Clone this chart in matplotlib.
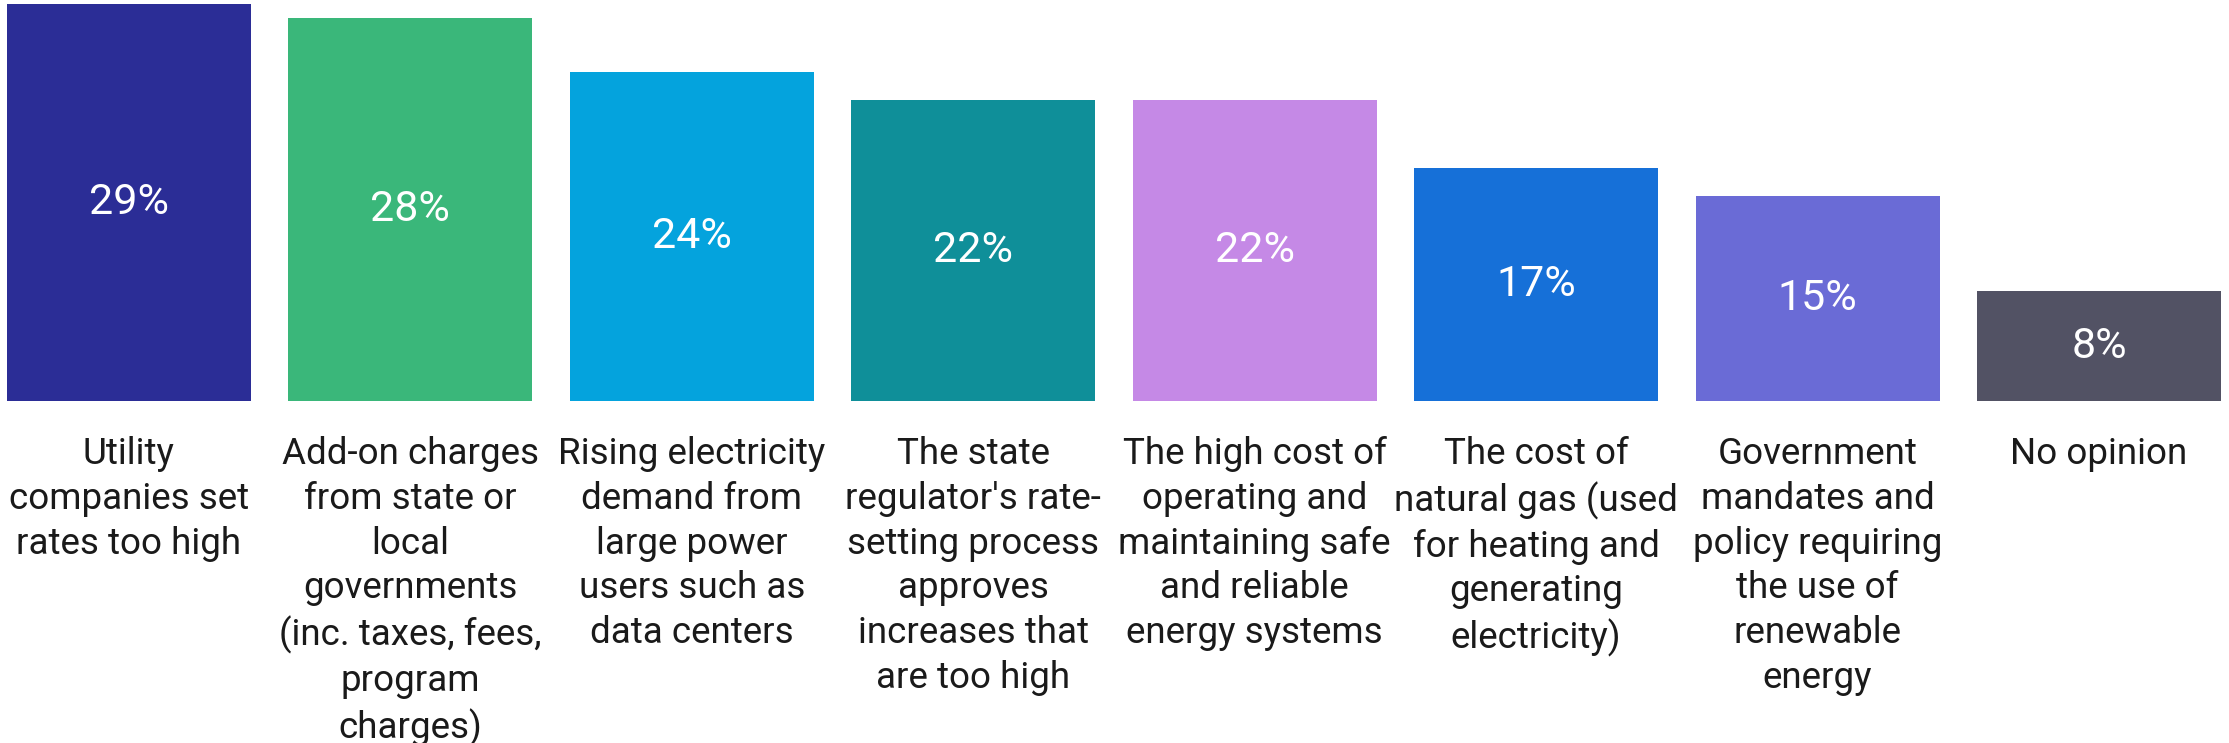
"""Bar chart: perceived causes of rising electricity bills."""

import matplotlib

matplotlib.use("Agg")
import matplotlib.pyplot as plt
import matplotlib.transforms as mtransforms

W_PX, H_PX = 2229, 743
DPI = 100

categories = [
    "Utility\ncompanies set\nrates too high",
    "Add-on charges\nfrom state or\nlocal\ngovernments\n(inc. taxes, fees,\nprogram\ncharges)",
    "Rising electricity\ndemand from\nlarge power\nusers such as\ndata centers",
    "The state\nregulator's rate-\nsetting process\napproves\nincreases that\nare too high",
    "The high cost of\noperating and\nmaintaining safe\nand reliable\nenergy systems",
    "The cost of\nnatural gas (used\nfor heating and\ngenerating\nelectricity)",
    "Government\nmandates and\npolicy requiring\nthe use of\nrenewable\nenergy",
    "No opinion",
]
values = [29, 28, 24, 22, 22, 17, 15, 8]
colors = ["#2B2D96", "#3AB77A", "#04A3DD", "#0F8F99",
          "#C589E6", "#1670D8", "#6A6BD6", "#525264"]

BAR_WIDTH = 0.867
LABEL_FONT = "Roboto"
LABEL_SIZE = 26.5
VALUE_SIZE = 31

plt.rcParams["font.family"] = [LABEL_FONT, "DejaVu Sans"]

fig = plt.figure(figsize=(W_PX / DPI, H_PX / DPI), dpi=DPI)
# axes spans the bar area: bottom of bars at 401 px from the top
ax_bottom = (H_PX - 401) / H_PX
ax = fig.add_axes([0, ax_bottom, 1, 1 - ax_bottom])

x = list(range(len(values)))
ax.bar(x, values, width=BAR_WIDTH, color=colors)
ax.set_xlim(-0.458, 7.462)
ax.set_ylim(0, 29 * 401 / 397)
ax.axis("off")

for xi, v in zip(x, values):
    ax.text(xi, v / 2, f"{v}%", ha="center", va="center",
            fontsize=VALUE_SIZE, color="white")

trans = mtransforms.blended_transform_factory(ax.transData, fig.transFigure)
label_top = (H_PX - 436) / H_PX
for xi, cat in zip(x, categories):
    ax.text(xi, label_top, cat, ha="center", va="top", transform=trans,
            fontsize=LABEL_SIZE, color="#1a1a1a", linespacing=1.315,
            multialignment="center")

fig.savefig("out.png", dpi=DPI)
